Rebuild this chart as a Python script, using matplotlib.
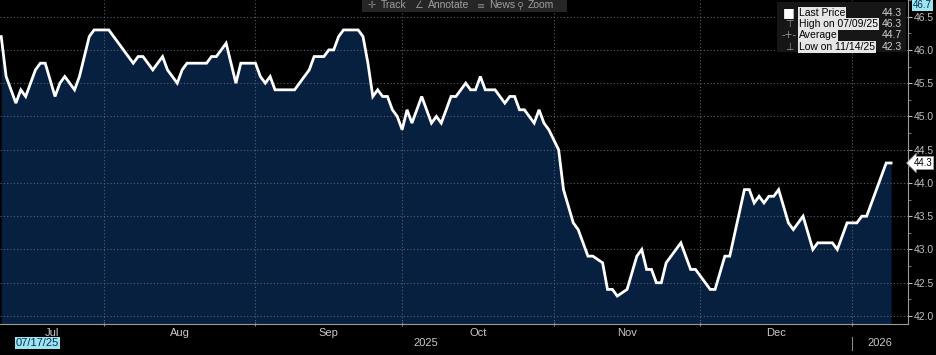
import matplotlib
matplotlib.use("Agg")
import matplotlib.pyplot as plt
import matplotlib.dates as mdates
import matplotlib.transforms as mtransforms
from matplotlib.patches import Rectangle
import pandas as pd

plt.rcParams["font.family"] = ["Liberation Sans", "DejaVu Sans"]

# price path (vertices of the line)
dates = [
    "2025-07-11", "2025-07-12", "2025-07-14", "2025-07-15", "2025-07-16", "2025-07-18",
    "2025-07-19", "2025-07-20", "2025-07-22", "2025-07-23", "2025-07-24", "2025-07-26",
    "2025-07-27", "2025-07-29", "2025-07-30", "2025-08-02", "2025-08-07", "2025-08-08",
    "2025-08-09", "2025-08-11", "2025-08-13", "2025-08-14", "2025-08-16", "2025-08-17",
    "2025-08-18", "2025-08-22", "2025-08-23", "2025-08-24", "2025-08-26", "2025-08-27",
    "2025-08-28", "2025-08-29", "2025-09-01", "2025-09-02", "2025-09-03", "2025-09-04",
    "2025-09-05", "2025-09-09", "2025-09-12", "2025-09-13", "2025-09-15", "2025-09-16",
    "2025-09-17", "2025-09-18", "2025-09-19", "2025-09-22", "2025-09-23", "2025-09-24",
    "2025-09-25", "2025-09-26", "2025-09-27", "2025-09-28", "2025-09-29", "2025-09-30",
    "2025-10-01", "2025-10-02", "2025-10-03", "2025-10-05", "2025-10-07", "2025-10-08",
    "2025-10-09", "2025-10-11", "2025-10-12", "2025-10-14", "2025-10-15", "2025-10-16",
    "2025-10-17", "2025-10-18", "2025-10-20", "2025-10-22", "2025-10-23", "2025-10-24",
    "2025-10-25", "2025-10-26", "2025-10-28", "2025-10-29", "2025-10-30", "2025-10-31",
    "2025-11-02", "2025-11-03", "2025-11-05", "2025-11-06", "2025-11-08", "2025-11-09",
    "2025-11-11", "2025-11-12", "2025-11-13", "2025-11-14", "2025-11-16", "2025-11-18",
    "2025-11-19", "2025-11-20", "2025-11-21", "2025-11-22", "2025-11-23", "2025-11-24",
    "2025-11-27", "2025-11-29", "2025-11-30", "2025-12-03", "2025-12-04", "2025-12-06",
    "2025-12-07", "2025-12-10", "2025-12-11", "2025-12-12", "2025-12-13", "2025-12-14",
    "2025-12-15", "2025-12-16", "2025-12-17", "2025-12-19", "2025-12-20", "2025-12-22",
    "2025-12-24", "2025-12-25", "2025-12-28", "2025-12-29", "2025-12-31", "2026-01-02",
    "2026-01-03", "2026-01-04", "2026-01-08", "2026-01-09",
]
values = [
    46.2, 45.6, 45.2, 45.4, 45.3, 45.7,
    45.8, 45.8, 45.3, 45.5, 45.6, 45.4,
    45.6, 46.2, 46.3, 46.3, 45.8, 45.9,
    45.9, 45.7, 45.9, 45.7, 45.5, 45.7,
    45.8, 45.8, 45.9, 45.9, 46.1, 45.8,
    45.5, 45.8, 45.8, 45.6, 45.5, 45.6,
    45.4, 45.4, 45.7, 45.9, 45.9, 46.0,
    46.0, 46.2, 46.3, 46.3, 46.2, 45.8,
    45.3, 45.4, 45.3, 45.3, 45.1, 45.0,
    44.8, 45.1, 44.9, 45.3, 44.9, 45.0,
    44.9, 45.3, 45.3, 45.5, 45.4, 45.4,
    45.6, 45.4, 45.4, 45.2, 45.3, 45.3,
    45.1, 45.1, 44.9, 45.1, 44.9, 44.8,
    44.5, 43.9, 43.4, 43.3, 42.9, 42.9,
    42.8, 42.4, 42.4, 42.3, 42.4, 42.9,
    43.0, 42.7, 42.7, 42.5, 42.5, 42.8,
    43.1, 42.7, 42.7, 42.4, 42.4, 42.9,
    42.9, 43.9, 43.9, 43.7, 43.8, 43.7,
    43.8, 43.8, 43.9, 43.4, 43.3, 43.5,
    43.0, 43.1, 43.1, 43.0, 43.4, 43.4,
    43.5, 43.5, 44.3, 44.3,
]

month_starts = ["2025-08-01", "2025-09-01", "2025-10-01", "2025-11-01", "2025-12-01", "2026-01-01"]
month_names = ["Jul", "Aug", "Sep", "Oct", "Nov", "Dec"]
y_ticks = [42.0, 42.5, 43.0, 43.5, 44.0, 44.5, 45.0, 45.5, 46.0, 46.5]
legend_labels = ["Last Price", "High on 07/09/25", "Average", "Low on 11/14/25"]
legend_values = ["44.3", "46.3", "44.7", "42.3"]
last_price = 44.3
toolbar_items = ["Track", "Annotate", "News", "Zoom"]
toolbar_icons = ["✛", "∠", "≡", "⚲"]

W, H = 936, 355


def px(x, y):
    # pixel position -> figure fraction
    return x / W, 1 - y / H


x = pd.to_datetime(dates)
x_left = pd.Timestamp("2025-07-10 18:00")
x_right = pd.Timestamp("2026-01-12 11:00")
y_bottom, y_top = 41.88, 46.65

fig = plt.figure(figsize=(W / 100, H / 100), dpi=100, facecolor="black")
ax = fig.add_axes([0, 1 - 324 / H, 908 / W, 324 / H])
ax.set_facecolor("black")

ax.fill_between(x, values, y_bottom, color="#08203f", lw=0, zorder=1)
ax.plot(x, values, color="white", lw=2.0, zorder=3, solid_joinstyle="miter")

for yv in y_ticks:
    ax.axhline(yv, color="#56616d", lw=0.8, ls=(0, (1, 2)), zorder=2)
for m in month_starts:
    ax.axvline(pd.Timestamp(m), color="#56616d", lw=0.8, ls=(0, (1, 2)), zorder=2)

ax.set_xlim(x_left, x_right)
ax.set_ylim(y_bottom, y_top)

# right value axis
ax.yaxis.tick_right()
ax.set_yticks(y_ticks)
ax.set_yticklabels(["%.1f" % v for v in y_ticks])
ax.set_yticks([v + 0.25 for v in y_ticks], minor=True)
ax.tick_params(axis="y", which="major", colors="#bfbfbf", labelsize=7.5, length=3, pad=1)
ax.tick_params(axis="y", which="minor", colors="#8a8a8a", length=2)

# month ticks, labels centred on the months
ax.set_xticks(pd.to_datetime(month_starts))
ax.set_xticklabels([])
ax.tick_params(axis="x", colors="#8a8a8a", length=3, direction="inout")
bounds = [x_left] + list(pd.to_datetime(month_starts))
blend = mtransforms.blended_transform_factory(ax.transData, ax.transAxes)
for i, name in enumerate(month_names):
    mid = bounds[i] + (bounds[i + 1] - bounds[i]) / 2
    ax.text(mdates.date2num(mid), -0.028, name, transform=blend, ha="center", va="center",
            color="#c8c8c8", fontsize=8)

jan = pd.Timestamp(month_starts[-1])
ax.text(mdates.date2num(x_left + (jan - x_left) / 2), -0.058, "2025", transform=blend,
        ha="center", va="center", color="#c8c8c8", fontsize=8)
ax.text(mdates.date2num(jan + (x_right - jan) / 2), -0.058, "2026", transform=blend,
        ha="center", va="center", color="#c8c8c8", fontsize=8)
ax.plot([mdates.date2num(jan)] * 2, [-0.04, -0.08], transform=blend, color="#8a8a8a",
        lw=0.8, clip_on=False)

for s in ["top", "left"]:
    ax.spines[s].set_visible(False)
ax.spines["right"].set_color("#9a9a9a")
ax.spines["bottom"].set_color("#9a9a9a")

# start date tag
fx, fy = px(16, 343)
fig.text(fx, fy, "07/17/25", color="#0a2a5a", fontsize=8, va="center", ha="left",
         bbox=dict(boxstyle="square,pad=0.1", fc="#9ce6ef", ec="none"))

# last price tag and top tag on the value axis
ax.text(1.006, last_price, "%.1f" % last_price,
        transform=mtransforms.blended_transform_factory(ax.transAxes, ax.transData),
        color="black", fontsize=7, va="center", ha="left",
        bbox=dict(boxstyle="larrow,pad=0.15", fc="white", ec="#9a9a9a", lw=0.5))
fx, fy = px(913, 5)
fig.text(fx, fy, "46.7", color="#0a2a5a", fontsize=7, va="center", ha="left", zorder=6,
         bbox=dict(boxstyle="square,pad=0.1", fc="#9ce6ef", ec="none"))

# toolbar
fx, fy = px(362, 12)
fig.add_artist(Rectangle((fx, fy), 205 / W, 12 / H, transform=fig.transFigure,
                         fc="#262626", ec="none", zorder=5))
for ix, tx, ic, t in zip([372, 419, 481, 520], [381, 428, 489, 528], toolbar_icons, toolbar_items):
    fx, fy = px(ix, 5.5)
    fig.text(fx, fy, ic, color="#8a8a8a", fontsize=7, ha="center", va="center", zorder=6,
             family="DejaVu Sans")
    fx, fy = px(tx, 5.5)
    fig.text(fx, fy, t, color="#a0a0a0", fontsize=7.5, ha="left", va="center", zorder=6)

# legend box
fx, fy = px(777, 52)
fig.add_artist(Rectangle((fx, fy), 129 / W, 50 / H, transform=fig.transFigure,
                         fc="#161616", ec="none", zorder=5))
icons = ["■", "⊤", "-+-", "⊥"]
rows = [13, 24, 35, 47]
for yp, lab, val, ic in zip(rows, legend_labels, legend_values, icons):
    fx, fy = px(789, yp)
    fig.text(fx, fy, ic, color="white" if ic == "■" else "#9a9a9a", fontsize=7 if ic != "■" else 9,
             ha="center", va="center", zorder=6, family="DejaVu Sans")
    fx, fy = px(799, yp)
    fig.text(fx, fy, lab, color="black", fontsize=7.5, ha="left", va="center", zorder=6,
             bbox=dict(boxstyle="square,pad=0.05", fc="#e6e6e6", ec="none"))
    fx, fy = px(902, yp)
    fig.text(fx, fy, val, color="#d0d0d0", fontsize=7.5, ha="right", va="center", zorder=6)

fig.savefig("out.png", dpi=100, facecolor="black")
